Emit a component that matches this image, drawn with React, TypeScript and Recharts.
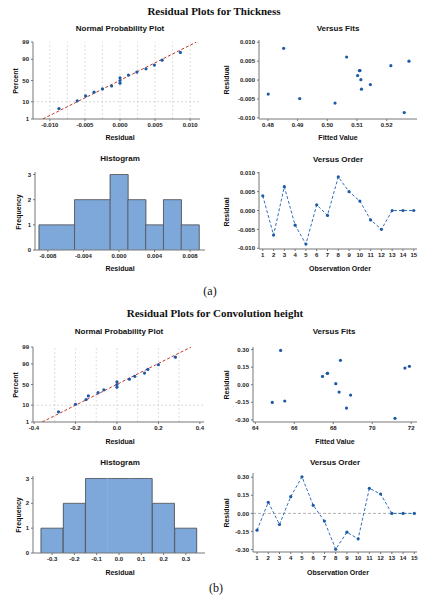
import React from 'react'
import {
  ScatterChart, Scatter, BarChart, Bar, XAxis, YAxis, ReferenceLine, ReferenceArea,
} from 'recharts'

// ---- (a) Thickness ----
const nppPercent = [4.5, 11.0, 17.5, 24.0, 30.5, 37.0, 43.5, 50.0, 56.5, 63.0, 69.5, 76.0, 82.5, 89.0, 95.5]
const pctTicks = [1, 10, 50, 90, 99]

const thickNppResid = [-0.0087, -0.0061, -0.0049, -0.0037, -0.0025, -0.0012, 0, 0, 0, 0.0012, 0.0024, 0.0037, 0.0049, 0.006, 0.0086]
const thickFitLine = [{ x: -0.011, p: 1 }, { x: 0.0109, p: 99 }]
const thickNppTicks = [-0.01, -0.005, 0, 0.005, 0.01]
const thickNppGrid = [-0.01, -0.0075, -0.005, -0.0025, 0, 0.0025, 0.005, 0.0075, 0.01]

const thickFits = [0.4853, 0.4801, 0.4907, 0.5026, 0.5065, 0.5102, 0.5108, 0.511, 0.5113, 0.5115, 0.5145, 0.5214, 0.5259, 0.5275]
const thickFitResid = [0.0084, -0.0037, -0.0049, -0.0061, 0.0061, 0.0012, 0.0025, 0.0025, 0.0001, -0.0024, -0.0012, 0.0038, -0.0086, 0.005]
const thickFitTicks = [0.48, 0.49, 0.5, 0.51, 0.52]
const thickResidTicks = [-0.01, -0.005, 0, 0.005, 0.01]

const thickBins = ['-0.008', '-0.006', '-0.004', '-0.002', '0.000', '0.002', '0.004', '0.006', '0.008']
const thickFreq = [1, 1, 2, 2, 3, 2, 1, 2, 1]

const order = [1, 2, 3, 4, 5, 6, 7, 8, 9, 10, 11, 12, 13, 14, 15]
const thickOrderResid = [0.0039, -0.0065, 0.0063, -0.0039, -0.0089, 0.0015, -0.0013, 0.0089, 0.005, 0.0025, -0.0025, -0.005, 0, 0, 0]

// ---- (b) Convolution height ----
const convNppResid = [-0.282, -0.2, -0.149, -0.138, -0.091, -0.063, 0, 0, 0, 0.06, 0.086, 0.133, 0.149, 0.2, 0.282]
const convFitLine = [{ x: -0.361, p: 1 }, { x: 0.358, p: 99 }]
const convNppTicks = [-0.4, -0.2, 0, 0.2, 0.4]
const convNppGrid = [-0.3, -0.2, -0.1, 0, 0.1, 0.2, 0.3]

const convFits = [65.3, 64.87, 65.51, 67.45, 67.7, 67.7, 68.37, 68.13, 68.3, 68.89, 68.68, 71.17, 71.68, 71.91]
const convFitResid = [0.293, -0.151, -0.139, 0.071, 0.097, 0.097, 0.208, 0.009, -0.063, -0.088, -0.199, -0.287, 0.142, 0.157]
const convFitTicks = [64, 66, 68, 70, 72]
const convResidTicks = [-0.3, -0.15, 0, 0.15, 0.3]

const convBins = ['-0.3', '-0.2', '-0.1', '0.0', '0.1', '0.2', '0.3']
const convFreq = [1, 2, 3, 3, 3, 2, 1]

const convOrderResid = [-0.139, 0.092, -0.092, 0.139, 0.303, 0.067, -0.064, -0.297, -0.156, -0.211, 0.208, 0.161, 0, 0, 0]

const BLUE = '#1d5aa5'
const SANS = '"Liberation Sans", Arial, sans-serif'
const SERIF = '"Liberation Serif", "Times New Roman", serif'
const tick = { fontSize: 6, fontWeight: 700, fill: '#222', fontFamily: SANS }
const YW = 30
const XH = 12

function probit(p: number) {
  const a = [-39.69683028665376, 220.9460984245205, -275.9285104469687, 138.357751867269, -30.66479806614716, 2.506628277459239]
  const b = [-54.47609879822406, 161.5858368580409, -155.6989798598866, 66.80131188771972, -13.28068155288572]
  const c = [-0.007784894002430293, -0.3223964580411365, -2.400758296712603, -2.549732539343734, 4.374664141464968, 2.938163982698783]
  const d = [0.007784695709041462, 0.3224671290700398, 2.445134137142996, 3.754408661907416]
  const lo = 0.02425
  const tail = (q: number) =>
    (((((c[0] * q + c[1]) * q + c[2]) * q + c[3]) * q + c[4]) * q + c[5]) / ((((d[0] * q + d[1]) * q + d[2]) * q + d[3]) * q + 1)
  if (p < lo) return tail(Math.sqrt(-2 * Math.log(p)))
  if (p > 1 - lo) return -tail(Math.sqrt(-2 * Math.log(1 - p)))
  const q = p - 0.5
  const r = q * q
  return ((((((a[0] * r + a[1]) * r + a[2]) * r + a[3]) * r + a[4]) * r + a[5]) * q) /
    (((((b[0] * r + b[1]) * r + b[2]) * r + b[3]) * r + b[4]) * r + 1)
}
const z = (pct: number) => probit(pct / 100)

type Box = { x0: number; y0: number; x1: number; y1: number }

function place(b: Box): React.CSSProperties {
  return { position: 'absolute', left: b.x0 - YW, top: b.y0 - 4 }
}
const size = (b: Box) => ({ width: b.x1 - b.x0 + YW + 4, height: b.y1 - b.y0 + 4 + XH })
const margin = { top: 4, right: 4, left: 0, bottom: 0 }

function Txt({ x, y, s = 7, bold = true, rot = false, font = SANS, children }: any) {
  return (
    <div style={{
      position: 'absolute', left: x, top: y, whiteSpace: 'nowrap', fontSize: s, fontFamily: font,
      fontWeight: bold ? 700 : 400, color: '#111', lineHeight: 1,
      transform: `translate(-50%, -50%)${rot ? ' rotate(-90deg)' : ''}`,
    }}>{children}</div>
  )
}

const dot = (p: any) => <circle cx={p.cx} cy={p.cy} r={1.6} fill={BLUE} />
const none = () => <g />

function NormalPlot({ box, resid, fit, ticks, grid, dom, fmt }: any) {
  const pts = resid.map((v: number, i: number) => ({ x: v, y: z(nppPercent[i]) }))
  const line = fit.map((d: any) => ({ x: d.x, y: z(d.p) }))
  const zt = pctTicks.map(z)
  return (
    <div style={place(box)}>
      <ScatterChart {...size(box)} margin={margin}>
        <XAxis type="number" dataKey="x" domain={dom} ticks={ticks} tickFormatter={fmt} height={XH}
          tick={tick} tickSize={2} stroke="#777" allowDataOverflow />
        <YAxis type="number" dataKey="y" domain={[z(1), z(99)]} ticks={zt} width={YW}
          tickFormatter={(v: number) => String(pctTicks[zt.findIndex((t) => Math.abs(t - v) < 1e-6)])}
          tick={tick} tickSize={2} stroke="#777" allowDataOverflow />
        {grid.map((g: number) => <ReferenceLine key={g} x={g} stroke="#d0d0d0" strokeDasharray="2 2" strokeWidth={0.7} />)}
        <ReferenceLine y={z(10)} stroke="#c8c8c8" strokeDasharray="2 2" strokeWidth={0.7} />
        <Scatter data={line} shape={none} line={{ stroke: '#c0392b', strokeWidth: 1, strokeDasharray: '3 2' }} isAnimationActive={false} />
        <Scatter data={pts} shape={dot} isAnimationActive={false} />
      </ScatterChart>
    </div>
  )
}

function FitsPlot({ box, xs, ys, xdom, ydom, xticks, yticks, xfmt, yfmt }: any) {
  const pts = xs.map((v: number, i: number) => ({ x: v, y: ys[i] }))
  return (
    <div style={place(box)}>
      <ScatterChart {...size(box)} margin={margin}>
        <XAxis type="number" dataKey="x" domain={xdom} ticks={xticks} tickFormatter={xfmt} height={XH}
          tick={tick} tickSize={2} stroke="#777" allowDataOverflow />
        <YAxis type="number" dataKey="y" domain={ydom} ticks={yticks} tickFormatter={yfmt} width={YW}
          tick={tick} tickSize={2} stroke="#777" allowDataOverflow />
        <ReferenceArea fill="none" stroke="#c4c4c4" strokeWidth={0.8} />
        <Scatter data={pts} shape={dot} isAnimationActive={false} />
      </ScatterChart>
    </div>
  )
}

function OrderPlot({ box, ys, ydom, yticks, yfmt, xdom, zero }: any) {
  const pts = order.map((o, i) => ({ x: o, y: ys[i] }))
  return (
    <div style={place(box)}>
      <ScatterChart {...size(box)} margin={margin}>
        <XAxis type="number" dataKey="x" domain={xdom} ticks={order} height={XH} interval={0}
          tick={tick} tickSize={2} stroke="#777" allowDataOverflow />
        <YAxis type="number" dataKey="y" domain={ydom} ticks={yticks} tickFormatter={yfmt} width={YW}
          tick={tick} tickSize={2} stroke="#777" allowDataOverflow />
        <ReferenceArea fill="none" stroke="#c4c4c4" strokeWidth={0.8} />
        {zero && <ReferenceLine y={0} stroke="#9a9a9a" strokeDasharray="3 2" strokeWidth={0.8} />}
        <Scatter data={pts} shape={dot} line={{ stroke: '#2f6fba', strokeWidth: 1, strokeDasharray: '3 2' }} isAnimationActive={false} />
      </ScatterChart>
    </div>
  )
}

function HistPlot({ box, bins, freq, pad, every }: any) {
  const data = bins.map((b: string, i: number) => ({ bin: b, n: freq[i] }))
  const shape = (p: any) => {
    const { x, y, width, height } = p
    const i = p.index ?? bins.indexOf(p.payload?.bin)
    const n = freq[i]
    const base = y + height
    const prev = i > 0 ? freq[i - 1] : -1
    const next = i < freq.length - 1 ? freq[i + 1] : -1
    const st = { stroke: '#4d4d4d', strokeWidth: 0.8 }
    return (
      <g>
        <rect x={x - 0.3} y={y} width={width + 0.6} height={height} fill="#7ea7da" />
        <line x1={x} y1={y} x2={x + width} y2={y} {...st} />
        {prev !== n && <line x1={x} y1={base} x2={x} y2={y} {...st} />}
        {next !== n && <line x1={x + width} y1={base} x2={x + width} y2={y} {...st} />}
      </g>
    )
  }
  return (
    <div style={place(box)}>
      <BarChart {...size(box)} data={data} margin={margin} barCategoryGap={0}>
        <XAxis dataKey="bin" height={XH} interval={every} padding={pad} tick={tick} tickSize={2} stroke="#777" />
        <YAxis type="number" domain={[0, 3.1]} ticks={[0, 1, 2, 3]} width={YW} tick={tick} tickSize={2} stroke="#777" allowDataOverflow />
        <ReferenceArea fill="none" stroke="#c4c4c4" strokeWidth={0.8} />
        <Bar dataKey="n" shape={shape} isAnimationActive={false} />
      </BarChart>
    </div>
  )
}

const f3 = (v: number) => v.toFixed(3)
const f2 = (v: number) => v.toFixed(2)
const f1 = (v: number) => v.toFixed(1)
const f0 = (v: number) => v.toFixed(0)

export default function App() {
  return (
    <div style={{ position: 'absolute', left: 0, top: 0, width: 421, height: 595, background: '#fff', overflow: 'hidden' }}>
      <Txt x={214} y={11} s={11} font={SERIF}>Residual Plots for Thickness</Txt>

      <Txt x={120} y={29} s={8}>Normal Probability Plot</Txt>
      <NormalPlot box={{ x0: 33, y0: 42, x1: 200, y1: 119 }} resid={thickNppResid} fit={thickFitLine}
        ticks={thickNppTicks} grid={thickNppGrid} dom={[-0.0124, 0.0114]} fmt={f3} />
      <Txt x={15} y={81} rot>Percent</Txt>
      <Txt x={120} y={137}>Residual</Txt>

      <Txt x={338} y={29} s={8}>Versus Fits</Txt>
      <FitsPlot box={{ x0: 259, y0: 40, x1: 417, y1: 119 }} xs={thickFits} ys={thickFitResid}
        xdom={[0.477, 0.5302]} ydom={[-0.0103, 0.0106]} xticks={thickFitTicks} yticks={thickResidTicks} xfmt={f2} yfmt={f3} />
      <Txt x={226} y={80} rot>Residual</Txt>
      <Txt x={338} y={137}>Fitted Value</Txt>

      <Txt x={120} y={159} s={8}>Histogram</Txt>
      <HistPlot box={{ x0: 35, y0: 172, x1: 205, y1: 250 }} bins={thickBins} freq={thickFreq} pad={{ left: 4, right: 6 }} every={1} />
      <Txt x={18} y={212} rot>Frequency</Txt>
      <Txt x={120} y={268}>Residual</Txt>

      <Txt x={338} y={160} s={8}>Versus Order</Txt>
      <OrderPlot box={{ x0: 259, y0: 172, x1: 417, y1: 249 }} ys={thickOrderResid} ydom={[-0.0102, 0.0102]}
        yticks={thickResidTicks} yfmt={f3} xdom={[0.65, 15.3]} />
      <Txt x={226} y={212} rot>Residual</Txt>
      <Txt x={340} y={268}>Observation Order</Txt>

      <Txt x={210} y={291} s={12} bold={false} font={SERIF}>(a)</Txt>

      <Txt x={215} y={313} s={11} font={SERIF}>Residual Plots for Convolution height</Txt>

      <Txt x={119} y={332} s={8}>Normal Probability Plot</Txt>
      <NormalPlot box={{ x0: 33, y0: 347, x1: 204, y1: 422 }} resid={convNppResid} fit={convFitLine}
        ticks={convNppTicks} grid={convNppGrid} dom={[-0.405, 0.42]} fmt={f1} />
      <Txt x={15} y={385} rot>Percent</Txt>
      <Txt x={120} y={441}>Residual</Txt>

      <Txt x={334} y={332} s={8}>Versus Fits</Txt>
      <FitsPlot box={{ x0: 253, y0: 347, x1: 417, y1: 422 }} xs={convFits} ys={convFitResid}
        xdom={[63.88, 72.3]} ydom={[-0.318, 0.322]} xticks={convFitTicks} yticks={convResidTicks} xfmt={f0} yfmt={f2} />
      <Txt x={226} y={385} rot>Residual</Txt>
      <Txt x={335} y={441}>Fitted Value</Txt>

      <Txt x={120} y={463} s={8}>Histogram</Txt>
      <HistPlot box={{ x0: 33, y0: 476, x1: 205, y1: 553 }} bins={convBins} freq={convFreq} pad={{ left: 8, right: 8 }} every={0} />
      <Txt x={18} y={515} rot>Frequency</Txt>
      <Txt x={120} y={572}>Residual</Txt>

      <Txt x={335} y={463} s={8}>Versus Order</Txt>
      <OrderPlot box={{ x0: 253, y0: 473, x1: 417, y1: 552 }} ys={convOrderResid} ydom={[-0.32, 0.335]}
        yticks={convResidTicks} yfmt={f2} xdom={[0.64, 15.24]} zero />
      <Txt x={226} y={513} rot>Residual</Txt>
      <Txt x={338} y={572}>Observation Order</Txt>

      <Txt x={216} y={588} s={12} bold={false} font={SERIF}>(b)</Txt>
    </div>
  )
}
